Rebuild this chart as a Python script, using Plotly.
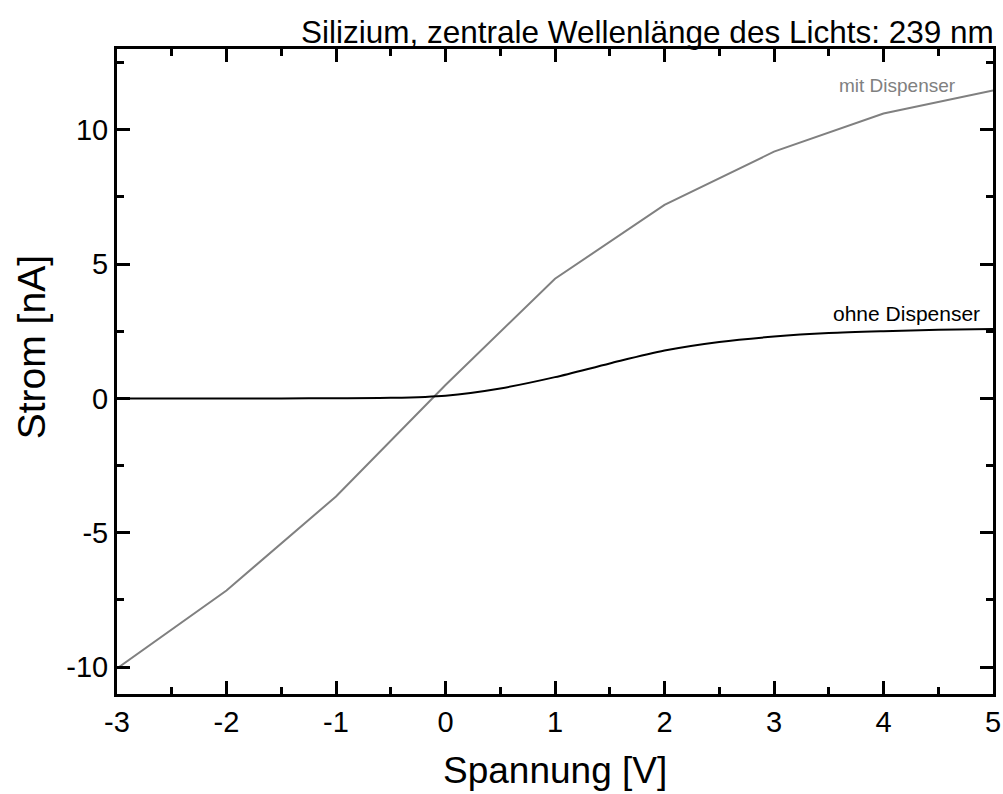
import plotly.graph_objects as go

# Data
x_mit = [-3, -2, -1, 0, 1, 2, 3, 4, 5]
y_mit = [-10.05, -7.15, -3.65, 0.5, 4.45, 7.2, 9.18, 10.6, 11.46]

x_ohne = [-3, -2.5, -2, -1.5, -1, -0.5, 0, 0.5, 1, 1.5, 2, 2.5, 3, 3.5, 4, 4.5, 5]
y_ohne = [0, 0, 0, 0, 0.005, 0.02, 0.1, 0.37, 0.79, 1.3, 1.78, 2.1, 2.3, 2.43, 2.5, 2.55, 2.58]

title_text = "Silizium, zentrale Wellenlänge des Lichts: 239 nm"
x_title = "Spannung [V]"
y_title = "Strom [nA]"
x_ticks = [-3, -2, -1, 0, 1, 2, 3, 4, 5]
x_ticktext = ["-3", "-2", "-1", "0", "1", "2", "3", "4", "5"]
y_ticks = [-10, -5, 0, 5, 10]
y_ticktext = ["-10", "-5", "0", "5", "10"]

FONT = "Liberation Sans, Arial, sans-serif"

fig = go.Figure()
fig.add_trace(go.Scatter(x=x_mit, y=y_mit, mode="lines",
                         line=dict(color="#808080", width=2), showlegend=False))
fig.add_trace(go.Scatter(x=x_ohne, y=y_ohne, mode="lines",
                         line=dict(color="black", width=2, shape="spline", smoothing=0.8),
                         showlegend=False))

axis_common = dict(
    showline=True, linecolor="black", linewidth=3, mirror="ticks",
    ticks="inside", ticklen=13, tickwidth=3, tickcolor="black",
    showgrid=False, zeroline=False, automargin=False,
    tickfont=dict(family=FONT, size=29, color="black"),
)

fig.update_xaxes(range=[-3, 5], tickvals=x_ticks, ticktext=x_ticktext,
                 minor=dict(ticks="inside", ticklen=7, tickwidth=3, tickcolor="black", dtick=0.5),
                 **axis_common)
fig.update_yaxes(range=[-11, 13], tickvals=y_ticks, ticktext=y_ticktext,
                 minor=dict(ticks="inside", ticklen=7, tickwidth=3, tickcolor="black", dtick=2.5, tick0=0),
                 **axis_common)

fig.add_annotation(text=title_text, xref="paper", yref="paper", x=1.003, y=1.0,
                   xanchor="right", yanchor="bottom", yshift=-3, showarrow=False,
                   font=dict(family=FONT, size=31.5, color="black"))
fig.add_annotation(text=x_title, xref="paper", yref="paper", x=0.5, y=0,
                   xanchor="center", yanchor="middle", yshift=-76, showarrow=False,
                   font=dict(family=FONT, size=37, color="black"))
fig.add_annotation(text=y_title, x=-3, y=(398 - 347) / 26.8, xref="x", yref="y",
                   xanchor="center", yanchor="middle", xshift=-86, textangle=-90,
                   showarrow=False, font=dict(family=FONT, size=39, color="black"))
fig.add_annotation(text="mit Dispenser", x=4.68, y=11.64, xanchor="right", yanchor="middle",
                   showarrow=False, font=dict(family=FONT, size=19, color="#808080"))
fig.add_annotation(text="ohne Dispenser", x=4.9, y=3.17, xanchor="right", yanchor="middle",
                   showarrow=False, font=dict(family=FONT, size=21, color="black"))

fig.update_layout(
    width=1003, height=794,
    margin=dict(l=117, r=10, t=49, b=100),
    plot_bgcolor="white", paper_bgcolor="white",
    font=dict(family=FONT, color="black"),
)

fig.write_html("out.html")
